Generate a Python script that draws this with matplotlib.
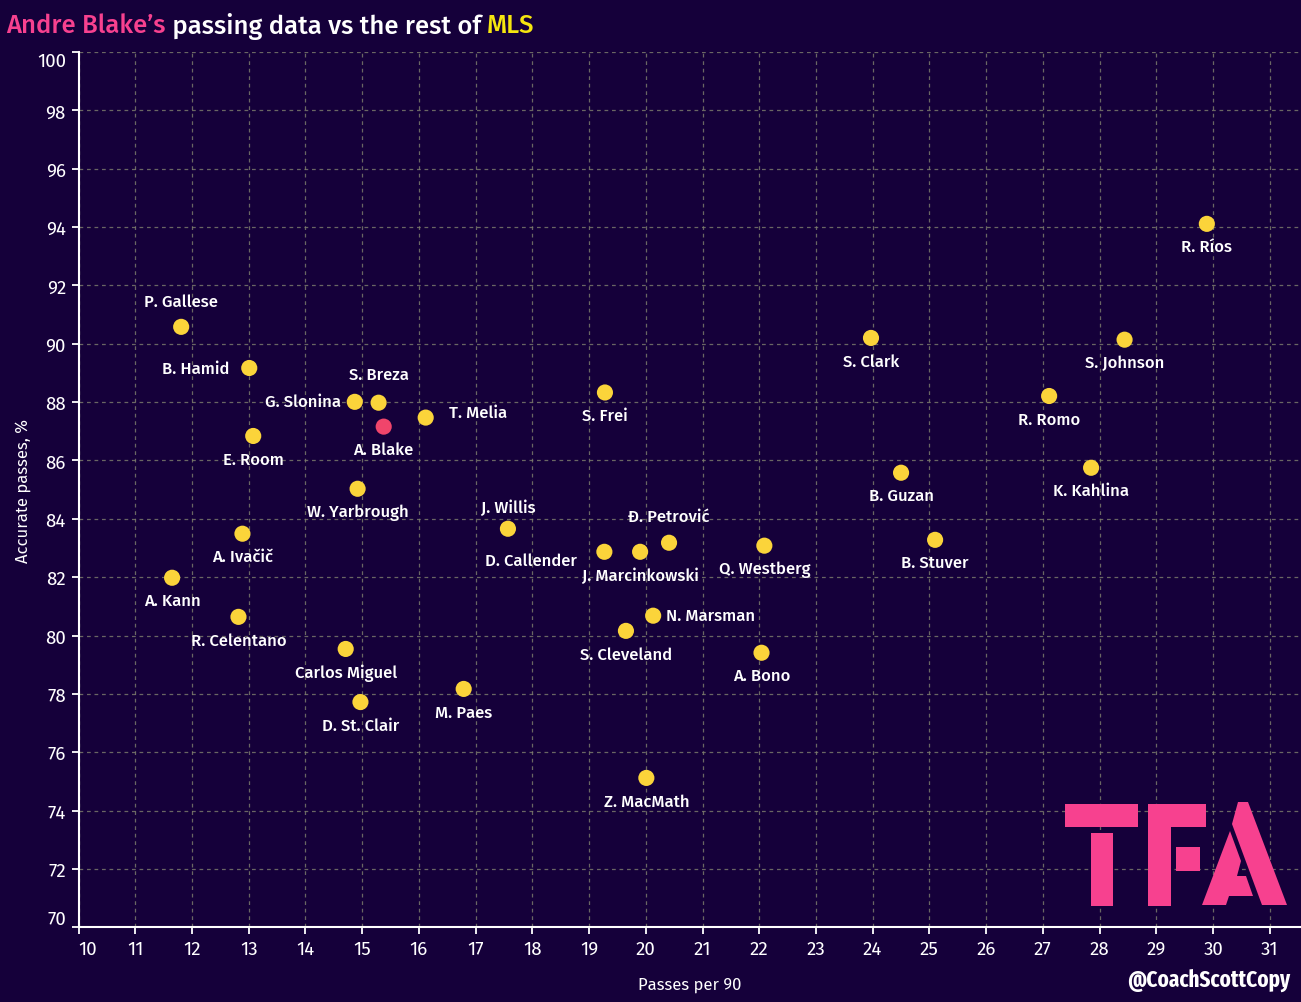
import matplotlib
matplotlib.use("Agg")
import matplotlib.pyplot as plt
from matplotlib.patches import Polygon

# data
players = [
    "P. Gallese", "B. Hamid", "E. Room", "G. Slonina", "S. Breza", "A. Blake",
    "T. Melia", "W. Yarbrough", "A. Ivačič", "A. Kann", "R. Celentano",
    "Carlos Miguel", "D. St. Clair", "M. Paes", "J. Willis", "S. Frei",
    "D. Callender", "J. Marcinkowski", "Đ. Petrović", "N. Marsman",
    "S. Cleveland", "Z. MacMath", "A. Bono", "Q. Westberg", "S. Clark",
    "B. Guzan", "B. Stuver", "R. Romo", "K. Kahlina", "S. Johnson", "R. Ríos",
]
passes_p90 = [
    11.81, 13.01, 13.08, 14.87, 15.29, 15.38,
    16.12, 14.92, 12.89, 11.65, 12.82,
    14.71, 14.97, 16.79, 17.57, 19.28,
    19.27, 19.90, 20.41, 20.13,
    19.65, 20.01, 22.04, 22.09, 23.97,
    24.50, 25.10, 27.11, 27.85, 28.44, 29.89,
]
accurate_pct = [
    90.58, 89.17, 86.84, 88.01, 87.98, 87.16,
    87.47, 85.03, 83.49, 81.98, 80.64,
    79.54, 77.72, 78.17, 83.66, 88.33,
    82.87, 82.87, 83.18, 80.68,
    80.16, 75.12, 79.41, 83.08, 90.20,
    85.58, 83.28, 88.21, 85.75, 90.14, 94.11,
]
highlight = "A. Blake"
x_ticks = list(range(10, 32))
y_ticks = list(range(70, 101, 2))

# label placement: (dx px, dy px, ha)
label_pos = {
    "P. Gallese": (0, 25, "center"),
    "B. Hamid": (-20, 0, "right"),
    "G. Slonina": (-14, 0, "right"),
    "S. Breza": (0, 28, "center"),
    "T. Melia": (23, 5, "left"),
    "J. Willis": (0, 22, "center"),
    "D. Callender": (-27, -9, "right"),
    "Đ. Petrović": (0, 26, "center"),
    "N. Marsman": (13, 0, "left"),
}

BG = "#15003a"
YELLOW = "#fbd43a"
PINK = "#f7418f"
BLAKE = "#f0456b"
FONT = ["Fira Sans", "Noto Sans", "DejaVu Sans"]

plt.rcParams["font.family"] = FONT

fig = plt.figure(figsize=(13.01, 10.03), dpi=100, facecolor=BG)
ax = fig.add_axes([78.5 / 1301, 1 - 928.3 / 1003, 1 - 78.5 / 1301, (928.3 - 53) / 1003])
ax.set_facecolor(BG)

colors = [BLAKE if p == highlight else YELLOW for p in players]
ax.scatter(passes_p90, accurate_pct, s=135, c=colors, zorder=3, linewidths=0)

for name, xv, yv in zip(players, passes_p90, accurate_pct):
    dx, dy, ha = label_pos.get(name, (0, -23, "center"))
    ax.annotate(name, (xv, yv), xytext=(dx, dy), textcoords="offset pixels",
                ha=ha, va="center", color="white", fontsize=12, fontweight="medium",
                zorder=4)

ax.set_xlim(10, 31.55)
ax.set_ylim(70, 100)
ax.set_xticks(x_ticks)
ax.set_yticks(y_ticks)
ax.grid(True, color="#80806e", linestyle=(0, (3, 3)), linewidth=0.9, alpha=0.8)
ax.set_axisbelow(True)

for s in ["top", "right"]:
    ax.spines[s].set_visible(False)
for s in ["left", "bottom"]:
    ax.spines[s].set_color("white")
    ax.spines[s].set_linewidth(1.5)
ax.tick_params(colors="white", labelsize=13.5, length=5, width=1.3, pad=4)
ax.get_xticklabels()[0].set_horizontalalignment("left")
ax.get_yticklabels()[0].set_verticalalignment("bottom")
ax.get_yticklabels()[-1].set_verticalalignment("top")

ax.set_xlabel("Passes per 90", color="white", fontsize=12, labelpad=13)
ax.set_ylabel("Accurate passes, %", color="white", fontsize=12, labelpad=4)

# title in three colours
renderer = fig.canvas.get_renderer()
x0 = 6 / 1301
for part, col in [("Andre Blake’s", PINK), (" passing data vs the rest of ", "white"), ("MLS", "#f5e60f")]:
    t = fig.text(x0, 1 - 26 / 1003, part, color=col, fontsize=18.5, va="center", ha="left",
                 fontweight="medium")
    bb = t.get_window_extent(renderer=renderer)
    x0 = bb.x1 / 1301

fig.text(1290 / 1301, 1 - 981 / 1003, "@CoachScottCopy", color="white", fontsize=16.5,
         fontweight="bold", ha="right", va="center",
         family=["Fira Sans Extra Condensed", "Barlow Condensed", "DejaVu Sans"])

# TFA logo drawn in pixel space
def px(pts):
    return [(x / 1301, 1 - y / 1003) for x, y in pts]

logo = [
    [(1065, 805), (1138, 805), (1138, 828), (1065, 828)],
    [(1091, 834), (1113, 834), (1113, 907), (1091, 907)],
    [(1148, 805), (1206, 805), (1206, 828), (1171, 828), (1171, 907), (1148, 907)],
    [(1176, 848), (1200, 848), (1200, 872), (1176, 872)],
    [(1238, 803), (1248, 803), (1287, 906), (1262, 906), (1232, 825)],
    [(1230, 832), (1202, 906), (1226, 906), (1229, 897), (1253, 897),
     (1246, 877), (1237, 877), (1241, 862)],
]
for poly in logo:
    fig.patches.append(Polygon(px(poly), closed=True, transform=fig.transFigure,
                               facecolor=PINK, edgecolor="none", zorder=5))

fig.savefig("out.png", dpi=100, facecolor=BG)
